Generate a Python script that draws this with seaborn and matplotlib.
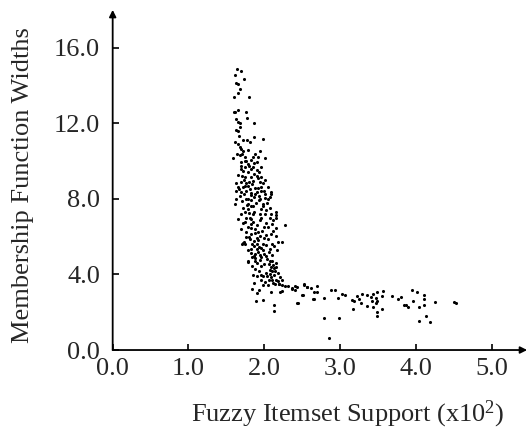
import matplotlib
matplotlib.use('Agg')
import matplotlib.pyplot as plt
import seaborn as sns
import pandas as pd

# points (support in x10^2, width)
support = [
    1.64, 1.69, 1.61, 1.73, 1.63, 1.65, 1.68, 1.66, 1.60, 1.80,
    1.60, 1.66, 1.76, 1.63, 1.65, 1.68, 1.77, 1.87, 1.63, 1.68,
    1.65, 1.67, 1.87, 1.72, 1.77, 1.81, 1.99, 1.68, 1.70, 1.72,
    1.79, 1.95, 1.59, 1.68, 1.74, 1.85, 1.92, 2.01, 1.70, 1.76,
    1.83, 1.90, 1.69, 1.74, 1.80, 1.85, 1.96, 1.72, 1.78, 1.91,
    1.66, 1.71, 1.75, 1.83, 1.92, 1.96, 2.01, 1.63, 1.70, 1.76,
    1.85, 1.94, 1.99, 1.66, 1.72, 1.79, 1.88, 1.96, 2.05, 1.63,
    1.70, 1.76, 1.83, 1.90, 1.96, 2.09, 1.68, 1.73, 1.83, 1.88,
    1.93, 2.01, 2.09, 1.62,
    1.63, 1.62, 1.76, 1.83, 1.93, 2.01, 2.07, 1.79, 1.85, 1.99,
    1.72, 1.79, 1.96, 2.03, 2.07, 2.16, 1.80, 1.85, 2.01, 2.09,
    2.16, 1.66, 1.76, 1.82, 1.96, 2.07, 2.16, 1.72, 1.83, 2.03,
    2.10, 2.27, 1.83, 1.88, 2.00, 2.16, 1.76, 1.83, 1.92, 1.94,
    2.03, 2.09, 1.80, 1.90, 2.00, 2.16, 1.73, 1.87, 2.18, 2.23,
    1.71, 1.75, 1.84, 1.91, 1.93, 2.02, 2.10, 1.83, 1.90, 1.96,
    2.07, 2.17, 1.83, 1.88, 1.94, 2.00, 2.03, 2.10, 1.84, 1.88,
    1.96, 1.78, 1.88, 2.07, 2.06, 2.12, 1.84, 1.96, 2.09, 2.13,
    2.16, 1.88, 2.07, 2.10, 2.14, 1.85, 1.91, 1.96, 2.04, 2.09,
    2.13, 1.96, 2.01, 2.10, 2.16, 2.18, 2.24, 1.87, 1.99, 2.05,
    2.14, 2.19, 2.23, 1.93, 2.09, 2.21, 2.23, 1.84, 1.90, 1.89,
    1.99, 2.13, 2.13, 1.72, 1.78,
    # denser part of the band
    1.66, 1.71, 1.75, 1.78, 1.82, 1.86, 1.88, 1.93, 1.73, 1.80,
    1.87, 1.69, 1.64, 1.62,
    1.67, 1.74, 1.78, 1.81, 1.86, 1.89, 1.92, 1.95, 1.98, 1.71,
    1.75, 1.82, 1.87, 1.94, 2.04, 1.69, 1.77, 2.00, 2.05, 1.84,
    1.90,
    1.74, 1.79, 1.85, 1.88, 1.91, 1.97, 2.05, 1.81, 1.86, 1.92,
    1.98, 2.05, 2.12, 1.78, 1.86, 1.92, 1.99, 2.06, 2.13, 1.76,
    1.70, 1.81, 1.95, 2.11,
    1.90, 1.95, 2.00, 2.04, 2.10, 2.15, 1.93, 2.02, 2.08, 2.18,
    2.21, 2.06, 2.12, 2.20, 2.27, 1.98,
    # tail
    2.32, 2.37, 2.40, 2.43, 2.53, 2.57, 2.62, 2.69, 2.66, 2.69,
    2.50, 2.45, 2.65, 2.79, 2.88, 2.94, 2.98, 3.02, 3.06, 2.79,
    2.99, 2.86, 2.66, 2.43, 2.51, 2.57, 2.53, 2.41, 2.36,
    3.16, 3.19, 3.23, 3.25, 3.29, 3.28, 3.17, 3.36, 3.36, 3.41,
    3.43, 3.42, 3.44, 3.47, 3.49, 3.49, 3.48, 3.49, 3.49, 3.55,
    3.57, 3.56, 3.69, 3.76, 3.80, 3.84, 3.87, 3.90, 3.95, 3.97,
    4.01, 4.04, 4.04, 4.11, 4.11, 4.11, 4.13, 4.19, 4.26, 4.51,
    4.53,
]
widths = [
    14.86, 14.79, 14.58, 14.36, 14.14, 14.07, 13.79, 13.61, 13.37, 13.40,
    12.58, 12.70, 12.61, 12.20, 12.08, 12.00, 12.26, 12.00, 11.64, 11.81,
    11.60, 11.32, 11.28, 11.10, 11.10, 11.02, 11.15, 10.76, 10.62, 10.54,
    10.58, 10.53, 10.14, 10.32, 10.23, 10.23, 10.19, 10.14, 9.96, 10.00,
    10.05, 9.96, 9.73, 9.70, 9.73, 9.66, 9.70, 9.49, 9.43, 9.52,
    9.26, 9.21, 9.14, 9.17, 9.08, 9.17, 9.00, 8.82, 8.90, 8.82,
    8.96, 8.90, 8.82, 8.64, 8.61, 8.68, 8.55, 8.61, 8.64, 8.42,
    8.37, 8.42, 8.33, 8.37, 8.42, 8.37, 8.15, 8.24, 8.19, 8.24,
    8.15, 8.24, 8.24, 12.61,
    7.98, 7.75, 7.98, 7.93, 7.93, 8.07, 8.10, 7.71, 7.62, 7.71,
    7.50, 7.45, 7.45, 7.39, 7.50, 7.32, 7.27, 7.18, 7.22, 7.18,
    7.14, 6.91, 6.97, 6.91, 6.97, 7.00, 6.97, 6.74, 6.69, 6.74,
    6.69, 6.61, 6.47, 6.38, 6.51, 6.44, 6.26, 6.15, 6.26, 6.03,
    6.08, 6.12, 5.97, 5.94, 5.94, 6.03, 5.73, 5.76, 5.73, 5.73,
    5.62, 5.59, 5.59, 5.62, 5.44, 5.55, 5.59, 5.37, 5.32, 5.41,
    5.37, 5.27, 5.14, 5.09, 5.05, 5.09, 4.96, 5.02, 4.91, 4.88,
    4.91, 4.70, 4.70, 4.70, 4.56, 4.52, 4.43, 4.43, 4.38, 4.35,
    4.38, 4.29, 4.26, 4.17, 4.17, 3.99, 3.90, 3.99, 3.90, 3.85,
    3.95, 3.72, 3.60, 3.72, 3.72, 3.63, 3.72, 3.55, 3.46, 3.42,
    3.49, 3.49, 3.46, 3.19, 3.06, 3.06, 3.13, 3.24, 3.01, 2.57,
    2.66, 2.36, 2.04, 5.67, 4.64,
    10.90, 10.40, 10.00, 9.85, 9.60, 9.90, 10.40, 9.40, 9.00, 8.90,
    9.30, 9.60, 10.40, 11.00,
    8.50, 8.70, 8.00, 8.50, 8.10, 7.80, 8.60, 8.00, 7.60, 7.90,
    7.30, 7.60, 7.30, 7.20, 7.80, 7.20, 7.70, 8.40, 8.00, 8.80,
    9.20,
    6.80, 6.50, 6.80, 6.20, 6.60, 6.30, 6.50, 5.90, 5.50, 5.80,
    5.60, 5.90, 6.30, 5.30, 5.00, 5.20, 5.30, 5.20, 5.50, 6.00,
    6.40, 7.00, 6.90, 6.90,
    4.60, 4.75, 4.55, 4.80, 4.70, 4.60, 4.20, 4.10, 4.00, 4.10,
    3.85, 3.70, 3.55, 3.50, 3.40, 3.90,
    3.37, 3.28, 3.19, 3.31, 3.46, 3.31, 3.28, 3.37, 3.06, 3.06,
    2.93, 2.48, 2.71, 2.75, 3.15, 3.19, 2.75, 2.96, 2.93, 1.69,
    1.69, 0.62, 2.70, 2.48, 2.93, 3.33, 3.49, 3.37, 3.23,
    2.66, 2.62, 2.84, 2.70, 2.98, 2.48, 2.15, 2.93, 2.34, 2.80,
    2.98, 2.57, 2.30, 2.75, 3.06, 2.57, 2.48, 2.00, 1.82, 2.87,
    3.13, 2.15, 2.84, 2.70, 2.80, 2.39, 2.39, 2.30, 3.15, 2.57,
    3.06, 2.27, 1.54, 2.93, 2.70, 2.39, 1.82, 1.50, 2.52, 2.52,
    2.48,
]

x_ticks = [0.0, 1.0, 2.0, 3.0, 4.0, 5.0]
y_ticks = [0.0, 4.0, 8.0, 12.0, 16.0]

df = pd.DataFrame({'support': support, 'width': widths})

sns.set_style('ticks')
plt.rcParams['font.family'] = ['Liberation Serif', 'DejaVu Serif']
plt.rcParams['mathtext.fontset'] = 'custom'
plt.rcParams['mathtext.rm'] = 'Liberation Serif'

fig = plt.figure(figsize=(5.28, 4.30), dpi=100)
ax = fig.add_axes([0.2134, 0.186, 0.785, 0.791])

sns.scatterplot(data=df, x='support', y='width', color='black', s=5,
                linewidth=0, ax=ax)

ax.set_xlim(0, 5.47)
ax.set_ylim(0, 18.0)
ax.set_xticks(x_ticks)
ax.set_yticks(y_ticks)
ax.set_xticklabels([f'{t:.1f}' for t in x_ticks])
ax.set_yticklabels([f'{t:.1f}' for t in y_ticks])
ax.tick_params(direction='in', length=4, width=1.2, labelsize=19, color='black')
ax.tick_params(axis='x', pad=6)
ax.tick_params(axis='y', pad=9)

for side in ['top', 'right', 'left', 'bottom']:
    ax.spines[side].set_visible(False)
# axes drawn as arrows
ax.annotate('', xy=(1.0, 0), xytext=(0, 0), xycoords='axes fraction',
            arrowprops=dict(arrowstyle='-|>', lw=1.3, color='black',
                            shrinkA=0, shrinkB=0, mutation_scale=10))
ax.annotate('', xy=(0, 1.0), xytext=(0, 0), xycoords='axes fraction',
            arrowprops=dict(arrowstyle='-|>', lw=1.3, color='black',
                            shrinkA=0, shrinkB=0, mutation_scale=10))

ax.set_xlabel('Fuzzy Itemset Support (x10$\\mathregular{^2}$)', fontsize=19)
ax.set_ylabel('Membership Function Widths', fontsize=19)
ax.xaxis.set_label_coords(0.567, -0.142)
ax.yaxis.set_label_coords(-0.190, 0.485)

fig.savefig('out.png', dpi=100)
